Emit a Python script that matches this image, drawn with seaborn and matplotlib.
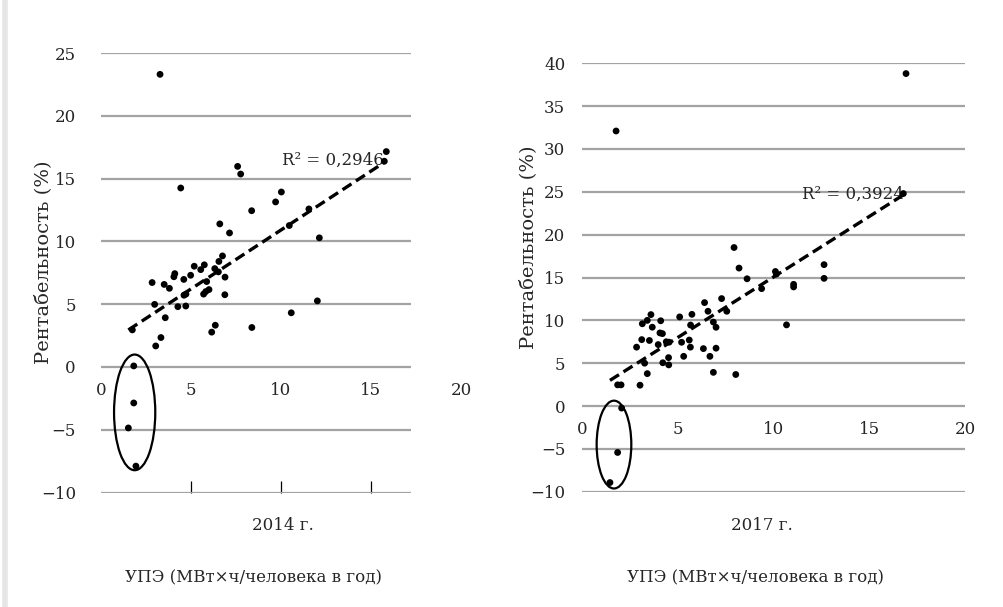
import numpy as np
import pandas as pd
import matplotlib
matplotlib.use("Agg")
import matplotlib.pyplot as plt
import seaborn as sns
from matplotlib.patches import Ellipse
from matplotlib.lines import Line2D

# ---- data ----
x_2014 = [3.28, 4.43, 7.59, 7.76, 10.02, 9.70, 8.37, 6.60, 7.14, 15.85, 15.74, 11.55,
          10.46, 12.13, 12.02, 10.57, 8.38, 5.18, 5.74, 6.55, 6.75, 6.32, 5.54, 6.52,
          4.10, 4.05, 4.98, 4.60, 6.89, 2.84, 3.51, 3.80, 5.87, 6.00, 5.82, 5.70,
          4.72, 4.61, 6.88, 2.98, 4.27, 4.71, 3.57, 1.74, 6.35, 6.15, 3.33, 3.04,
          1.82, 1.82, 1.52, 1.94]
y_2014 = [23.3, 14.25, 15.97, 15.36, 13.93, 13.14, 12.44, 11.39, 10.67, 17.15, 16.38, 12.58,
          11.26, 10.28, 5.26, 4.31, 3.14, 8.02, 8.13, 8.40, 8.84, 7.83, 7.75, 7.57,
          7.43, 7.18, 7.30, 6.97, 7.15, 6.72, 6.57, 6.26, 6.80, 6.16, 6.00, 5.80,
          5.80, 5.71, 5.75, 4.98, 4.80, 4.85, 3.92, 2.95, 3.32, 2.77, 2.34, 1.67,
          0.08, -2.87, -4.86, -7.90]

x_2017 = [16.92, 1.78, 16.78, 7.94, 8.20, 8.62, 9.38, 10.10, 10.15, 11.05, 11.05, 12.64,
          12.64, 10.68, 6.40, 7.29, 6.58, 7.56, 6.86, 7.00, 5.74, 5.67, 5.10, 3.60,
          3.41, 3.15, 4.11, 3.67, 4.07, 4.20, 3.12, 3.52, 3.98, 4.40, 4.55, 5.20,
          5.60, 5.66, 2.85, 3.27, 3.41, 4.22, 4.53, 4.52, 5.31, 6.34, 6.68, 7.00,
          6.86, 8.03, 3.03, 1.86, 2.04, 2.07, 1.86, 1.46]
y_2017 = [38.8, 32.1, 24.8, 18.5, 16.1, 14.85, 13.7, 15.7, 15.4, 14.2, 13.9, 16.5,
          14.9, 9.47, 12.07, 12.54, 11.06, 11.06, 9.80, 9.19, 10.70, 9.45, 10.40, 10.67,
          10.00, 9.60, 9.95, 9.20, 8.53, 8.45, 7.75, 7.65, 7.17, 7.50, 7.45, 7.44,
          7.70, 6.87, 6.87, 5.00, 3.78, 5.05, 4.80, 5.65, 5.80, 6.70, 5.80, 6.75,
          3.93, 3.68, 2.43, 2.47, 2.47, -0.24, -5.42, -8.93]

r2_labels = ["R² = 0,2946", "R² = 0,3924"]
year_labels = ["2014 г.", "2017 г."]
x_title = "УПЭ (МВт×ч/человека в год)"
y_title = "Рентабельность (%)"
x_ticks = [0, 5, 10, 15, 20]
y_ticks_2014 = [-10, -5, 0, 5, 10, 15, 20, 25]
y_ticks_2017 = [-10, -5, 0, 5, 10, 15, 20, 25, 30, 35, 40]

# ---- style ----
sns.set_theme(style="white")
plt.rcParams["font.family"] = ["DejaVu Serif"]
FS = 12
GRID = "#a3a3a3"

fig = plt.figure(figsize=(10.04, 6.07), dpi=100)
W, H = 1004, 607
ax1 = fig.add_axes([101 / W, (H - 492.5) / H, 360 / W, (492.5 - 53) / H])
ax2 = fig.add_axes([582 / W, (H - 491.7) / H, 383 / W, (491.7 - 63.3) / H])

panels = [
    (ax1, x_2014, y_2014, y_ticks_2014, 17.2, r2_labels[0], (10.04, 16.46),
     (1.87, -3.62, 2.29, 9.21), 18, (-0.135, 0.524)),
    (ax2, x_2017, y_2017, y_ticks_2017, 20.0, r2_labels[1], (11.47, 24.7),
     (1.67, -4.5, 1.81, 10.25), 12, (-0.117, 0.570)),
]

for ax, xs, ys, yt, xmax, r2, r2pos, ell, ypad, ylab in panels:
    df = pd.DataFrame({"x": xs, "y": ys})
    ax.set_xlim(0, 20)
    ax.set_ylim(yt[0], yt[-1])
    ax.hlines(yt, 0, xmax, color=GRID, lw=1.6, zorder=1)
    sns.regplot(data=df, x="x", y="y", ax=ax, scatter=False, ci=None, truncate=True,
                line_kws=dict(color="black", lw=2.4, ls=(0, (3.2, 1.6)), zorder=3))
    sns.scatterplot(data=df, x="x", y="y", ax=ax, color="black", s=24,
                    edgecolor="none", zorder=4)
    cx, cy, ew, eh = ell
    ax.add_patch(Ellipse((cx, cy), ew, eh, fill=False, ec="black", lw=1.6, zorder=5))
    ax.text(r2pos[0], r2pos[1], r2, ha="left", va="center", fontsize=FS, zorder=2)
    for s in ax.spines.values():
        s.set_visible(False)
    ax.spines["bottom"].set_position(("data", 0))
    ax.set_xticks(x_ticks)
    ax.set_yticks(yt)
    ax.tick_params(axis="x", length=0, pad=11, labelsize=FS)
    ax.tick_params(axis="y", length=0, pad=ypad, labelsize=FS)
    ax.set_xlabel("")
    ax.set_ylabel(y_title, fontsize=14)
    ax.yaxis.set_label_coords(*ylab)
    ax.set_facecolor("none")

# small upward tick marks on the bottom edge of the 2014 panel
sec = ax1.secondary_xaxis(0)
sec.set_xticks([5, 10, 15])
sec.tick_params(direction="in", length=9, width=0.9, color="black", labelbottom=False)
sec.spines["bottom"].set_visible(False)

# captions under each panel
fig.text(283 / W, 1 - 526 / H, year_labels[0], ha="center", va="center", fontsize=FS)
fig.text(254 / W, 1 - 578 / H, x_title, ha="center", va="center", fontsize=FS)
fig.text(762 / W, 1 - 526 / H, year_labels[1], ha="center", va="center", fontsize=FS)
fig.text(756 / W, 1 - 578 / H, x_title, ha="center", va="center", fontsize=FS)

# faint page edge on the left
fig.add_artist(Line2D([0.005, 0.005], [0, 1], color="#e6e6e6", lw=4,
                      transform=fig.transFigure))

fig.savefig("out.png", dpi=100)
